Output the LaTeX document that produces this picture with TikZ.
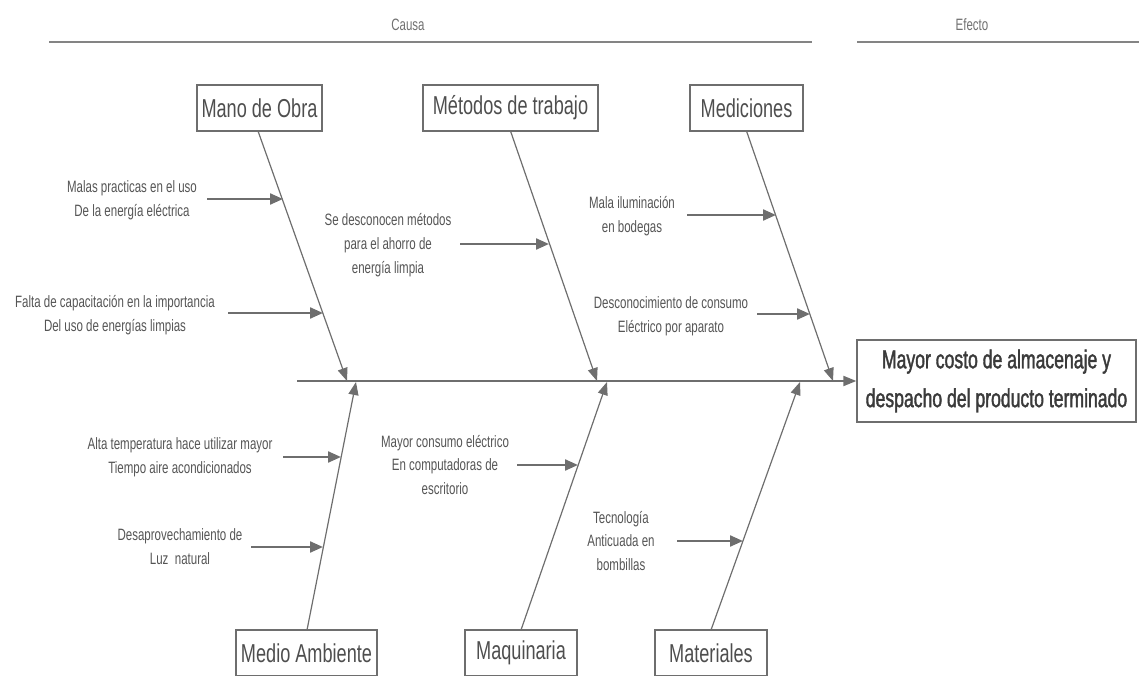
\documentclass[tikz,border=0pt]{standalone}
\usepackage{fontspec}
\setmainfont{Liberation Sans}[FakeStretch=0.7]
\newfontfamily\efont{Liberation Sans}[FakeStretch=0.68,FakeBold=1.5]
\usetikzlibrary{arrows.meta}
\definecolor{ln}{HTML}{6E6E6E}
\definecolor{tx}{HTML}{555555}
\definecolor{bx}{HTML}{4E4E4E}
\definecolor{ef}{HTML}{3A3A3A}
\definecolor{hd}{HTML}{707070}
\begin{document}
\begin{tikzpicture}[x=1bp,y=-1bp,
  catbox/.style={draw=ln,line width=1.3bp,text=bx,font=\fontsize{26}{28}\selectfont,minimum height=46bp,inner xsep=4bp,anchor=center},
  effbox/.style={draw=ln,line width=1.3bp,text=ef,font=\efont\fontsize{26}{39}\selectfont,align=center,minimum width=279bp,minimum height=82bp,inner sep=0pt},
  note/.style={text=tx,font=\fontsize{16.5}{24}\selectfont,align=center,inner sep=0pt},
  head/.style={text=hd,font=\fontsize{16.5}{18}\selectfont,inner sep=0pt},
  bone/.style={draw=ln,line width=1.2bp,-{Triangle[length=13bp,width=10bp]},color=ln},
  rib/.style={draw=ln,line width=2.2bp,-{Triangle[length=13bp,width=11bp]},color=ln},
  rule/.style={draw=ln!85,line width=2.4bp}]
\useasboundingbox (0,0) rectangle (1139,676);
% headings
\node[head] (causa) at (408,25) {Causa};
\node[head] (efecto) at (972,25) {Efecto};
\coordinate (c1) at (49,42); \coordinate (c2) at (812,42);
\coordinate (e1) at (857,42); \coordinate (e2) at (1139,42);
\draw[rule] (c1) -- (c2);
\draw[rule] (e1) -- (e2);
% category boxes
\node[catbox,minimum width=125bp] (mano) at (259.5,108) {Mano de Obra};
\node[catbox,minimum width=175bp] (metodos) at (510.5,108) {Métodos de trabajo};
\node[catbox,minimum width=113bp] (medic) at (746.5,108) {Mediciones};
\node[catbox,minimum width=141bp] (medio) at (306.5,653) {Medio Ambiente};
\node[catbox,minimum width=112bp] (maqui) at (521,653) {Maquinaria};
\node[catbox,minimum width=112bp] (mater) at (711,653) {Materiales};
% effect
\node[effbox] (efecto box) at (996.5,381) {Mayor costo de almacenaje y\\despacho del producto terminado};
% spine
\coordinate (s0) at (297,381);
\draw[bone,line width=2bp] (s0) -- (efecto box.west);
% bone tips on spine
\coordinate (t1) at (347,381);
\coordinate (t2) at (597,381);
\coordinate (t3) at (833,381);
\coordinate (b1) at (356,382);
\coordinate (b2) at (607,382);
\coordinate (b3) at (800,382);
\coordinate (m1) at (258,131);
\coordinate (m2) at (510.5,131);
\coordinate (m3) at (746.5,131);
\coordinate (n1) at (307,630);
\coordinate (n2) at (521,630);
\coordinate (n3) at (711,630);
\draw[bone] (m1) -- (t1);
\draw[bone] (m2) -- (t2);
\draw[bone] (m3) -- (t3);
\draw[bone] (n1) -- (b1);
\draw[bone] (n2) -- (b2);
\draw[bone] (n3) -- (b3);
% notes
\node[note] (malas) at (132,200) {Malas practicas en el uso\\De la energía eléctrica};
\node[note] (falta) at (115,315) {Falta de capacitación en la importancia\\Del uso de energías limpias};
\node[note] (sedesc) at (388,245) {Se desconocen métodos\\para el ahorro de\\energía limpia};
\node[note] (ilum) at (632,216) {Mala iluminación\\en bodegas};
\node[note] (descon) at (671,316) {Desconocimiento de consumo\\Eléctrico por aparato};
\node[note] (alta) at (180,457) {Alta temperatura hace utilizar mayor\\Tiempo aire acondicionados};
\node[note] (desap) at (180,547) {Desaprovechamiento de\\Luz\ \ natural};
\node[note] (mayorc) at (445,465) {Mayor consumo eléctrico\\En computadoras de\\escritorio};
\node[note] (tecno) at (621,541) {Tecnología\\Anticuada en\\bombillas};
% rib arrows
\coordinate (r1a) at (207,199); \coordinate (r1b) at (283,199);
\coordinate (r2a) at (228,313); \coordinate (r2b) at (323,313);
\coordinate (r3a) at (460,244); \coordinate (r3b) at (549,244);
\coordinate (r4a) at (687,215); \coordinate (r4b) at (776,215);
\coordinate (r5a) at (757,314); \coordinate (r5b) at (810,314);
\coordinate (r6a) at (283,457); \coordinate (r6b) at (341,457);
\coordinate (r7a) at (251,547); \coordinate (r7b) at (323,547);
\coordinate (r8a) at (517,465); \coordinate (r8b) at (578,465);
\coordinate (r9a) at (677,541); \coordinate (r9b) at (743,541);
\foreach \i in {1,...,9} {\draw[rib] (r\i a) -- (r\i b);}
\end{tikzpicture}
\end{document}
